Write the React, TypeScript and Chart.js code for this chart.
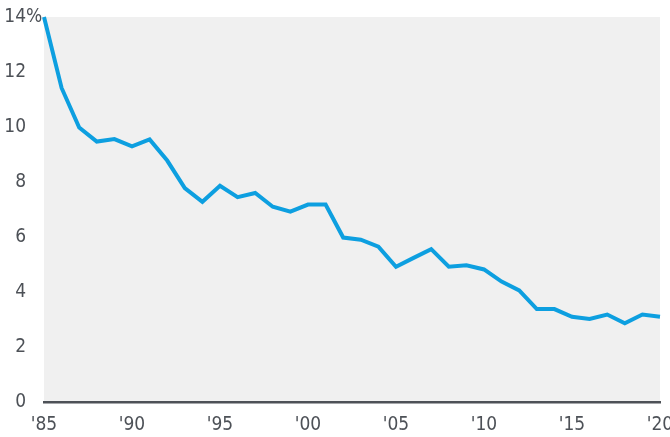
import React, { useEffect, useRef } from "react";
import { Chart, registerables } from "chart.js";

Chart.register(...registerables);

const years: number[] = [
  1985, 1986, 1987, 1988, 1989, 1990, 1991, 1992, 1993, 1994, 1995, 1996,
  1997, 1998, 1999, 2000, 2001, 2002, 2003, 2004, 2005, 2006, 2007, 2008,
  2009, 2010, 2011, 2012, 2013, 2014, 2015, 2016, 2017, 2018, 2019, 2020,
];
const rates: number[] = [
  14.0, 11.42, 9.98, 9.47, 9.56, 9.3, 9.55, 8.78, 7.78, 7.28, 7.86, 7.45,
  7.6, 7.1, 6.92, 7.18, 7.18, 5.98, 5.9, 5.65, 4.92, 5.24, 5.56, 4.92,
  4.97, 4.82, 4.38, 4.06, 3.38, 3.38, 3.1, 3.02, 3.18, 2.86, 3.18, 3.1,
];
const yTicks: number[] = [0, 2, 4, 6, 8, 10, 12, 14];
const xTicks: number[] = [1985, 1990, 1995, 2000, 2005, 2010, 2015, 2020];

const FONT = "'DejaVu Sans', sans-serif";
const WEIGHT = "normal condensed";
const TEXT = "#4d5157";

export default function App() {
  const ref = useRef<HTMLCanvasElement | null>(null);
  useEffect(() => {
    if (!ref.current) return;
    const bgPlugin = {
      id: "bg",
      beforeDraw(chart: any) {
        const { ctx, chartArea } = chart;
        ctx.save();
        ctx.fillStyle = "#f0f0f0";
        ctx.fillRect(chartArea.left, chartArea.top, chartArea.right - chartArea.left, chartArea.bottom - chartArea.top);
        ctx.restore();
      },
      afterDraw(chart: any) {
        const { ctx } = chart;
        const y = chart.scales.y;
        const py = y.getPixelForValue(14);
        ctx.save();
        ctx.font = `${WEIGHT} 19px ${FONT}`;
        ctx.fillStyle = TEXT;
        ctx.textBaseline = "middle";
        ctx.textAlign = "left";
        const right = y.right - 18;
        ctx.fillText("%", right, py);
        ctx.restore();
      },
    };
    const chart = new Chart(ref.current, {
      type: "line",
      data: {
        datasets: [
          {
            data: years.map((x, i) => ({ x, y: rates[i] })),
            borderColor: "#0d9fe0",
            borderWidth: 4,
            pointRadius: 0,
            tension: 0,
            fill: false,
            clip: false as any,
          },
        ],
      },
      options: {
        animation: false,
        responsive: true,
        maintainAspectRatio: false,
        layout: { padding: { top: 17, right: 10, left: 0, bottom: 0 } },
        plugins: { legend: { display: false }, tooltip: { enabled: false } },
        scales: {
          x: {
            type: "linear",
            min: 1985,
            max: 2020,
            afterBuildTicks: (s: any) => {
              s.ticks = xTicks.map((v) => ({ value: v }));
            },
            afterFit: (s: any) => {
              s.height = 35;
              s.paddingLeft = 0;
              s.paddingRight = 0;
            },
            grid: { display: false, drawTicks: false },
            border: { display: true, color: TEXT, width: 2.5 },
            ticks: {
              color: TEXT,
              font: { family: FONT, size: 19, weight: WEIGHT as any },
              padding: 12,
              maxRotation: 0,
              autoSkip: false,
              callback: (v: any) => "'" + String(v).slice(2),
            },
          },
          y: {
            min: 0,
            max: 14,
            afterBuildTicks: (s: any) => {
              s.ticks = yTicks.map((v) => ({ value: v }));
            },
            afterFit: (s: any) => {
              s.width = 44;
              s.paddingTop = 0;
              s.paddingBottom = 0;
            },
            grid: { display: false, drawTicks: false },
            border: { display: false },
            ticks: {
              color: TEXT,
              font: { family: FONT, size: 19, weight: WEIGHT as any },
              padding: 18,
              callback: (v: any) => String(v),
            },
          },
        },
      },
      plugins: [bgPlugin],
    });
    return () => chart.destroy();
  }, []);
  return (
    <div style={{ position: "fixed", left: 0, top: 0, width: 670, height: 437, background: "#fff" }}>
      <canvas ref={ref} />
    </div>
  );
}
